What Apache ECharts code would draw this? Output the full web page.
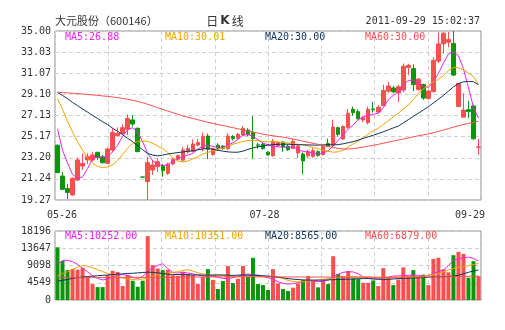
<!DOCTYPE html>
<html><head><meta charset="utf-8">
<script src="https://cdn.jsdelivr.net/npm/echarts@6/dist/echarts.min.js"></script>
<style>html,body{margin:0;padding:0;background:#fff}#c{width:505px;height:330px}</style>
</head><body><div id="c"></div>
<script>
const dates = ['05-26','05-27','05-30','05-31','06-01','06-02','06-03','06-07','06-08','06-09',
'06-10','06-13','06-14','06-15','06-20','06-21','06-22','06-23','06-24','06-27',
'06-28','06-29','06-30','07-01','07-04','07-05','07-06','07-07','07-08','07-11',
'07-12','07-13','07-14','07-15','07-18','07-19','07-20','07-21','07-22','07-25',
'07-26','07-27','07-28','07-29','08-01','08-02','08-05','08-08','08-09','08-10',
'08-11','08-12','08-15','08-16','08-17','08-18','08-19','08-22','08-23','08-24',
'08-25','08-26','08-29','08-30','08-31','09-01','09-02','09-05','09-06','09-07',
'09-08','09-09','09-13','09-14','09-15','09-16','09-19','09-20','09-21','09-22',
'09-23','09-26','09-27','09-28','09-29'];

const openP = [24.37,21.50,20.33,19.74,21.13,22.43,23.00,23.00,23.71,23.30,
22.68,23.92,25.26,25.47,25.85,26.72,25.94,21.41,20.98,22.06,
22.37,22.43,21.75,22.63,23.06,22.98,23.75,23.78,24.38,24.05,
25.22,23.50,24.37,24.28,24.06,25.18,25.01,25.32,25.78,25.55,
24.40,24.45,23.72,23.38,24.32,24.65,24.28,24.08,23.65,23.55,
23.38,23.33,23.77,23.50,24.52,24.38,26.00,24.95,26.03,27.71,
27.49,26.72,26.47,27.75,27.46,28.06,29.40,29.70,29.26,29.50,
31.60,31.50,29.55,30.02,28.72,29.37,32.20,33.80,33.95,33.85,
27.98,26.98,27.68,28.02,24.18];
const closeP = [21.82,20.26,19.97,21.29,23.00,22.68,23.30,23.46,23.24,22.74,
24.02,25.57,25.47,26.00,26.87,26.34,23.77,21.40,22.75,22.53,
22.84,22.00,22.60,23.05,23.40,23.93,24.08,24.48,24.62,25.18,
24.00,24.05,24.10,24.08,25.22,24.98,25.38,25.93,25.38,24.98,
24.36,24.06,23.46,24.75,24.62,24.20,23.95,24.74,24.30,22.90,
23.80,23.88,23.42,24.28,24.27,26.06,25.38,26.10,27.34,27.40,
26.84,26.93,27.71,27.68,27.90,29.48,29.88,29.33,29.82,31.72,
31.80,30.00,30.53,28.76,29.42,32.28,33.80,34.80,34.20,30.90,
30.12,27.64,27.50,24.96,24.21];
const lowP = [21.78,20.20,19.35,19.68,21.04,22.06,22.62,22.84,23.00,22.68,
22.62,23.77,25.17,25.32,25.32,26.10,23.71,21.40,19.27,21.60,
21.90,21.44,21.60,22.50,22.95,22.85,23.60,23.70,24.25,23.80,
23.08,23.40,23.86,23.95,23.90,24.80,24.90,25.20,25.20,23.13,
24.05,23.95,23.40,23.30,24.20,23.75,23.85,24.00,23.18,21.68,
23.20,23.20,23.30,23.40,24.20,24.25,25.20,24.85,25.90,27.10,
26.75,26.50,26.30,27.40,27.30,27.95,29.20,29.20,28.40,29.30,
30.90,29.40,29.45,28.60,28.60,29.25,32.00,32.90,33.50,30.80,
27.90,26.95,26.90,24.90,23.45];
const highP = [24.45,21.90,20.76,21.38,23.21,23.61,23.61,23.77,23.75,23.46,
24.17,25.94,26.03,26.31,27.24,27.18,26.03,21.41,23.30,23.00,
23.15,22.62,22.75,23.20,23.50,24.20,24.40,24.90,24.95,25.55,
25.45,24.15,24.55,24.40,25.50,25.30,25.50,26.15,25.95,27.07,
24.60,24.60,23.80,24.95,24.75,24.75,24.45,24.95,24.45,23.70,
23.95,24.10,23.90,24.40,24.98,26.75,26.10,26.25,27.75,27.95,
27.70,27.10,27.95,28.40,28.10,30.00,30.25,29.90,30.00,31.98,
31.95,31.90,30.60,30.10,29.50,32.55,34.85,34.90,34.90,35.00,
30.12,29.20,28.50,28.15,24.95];

const volume = [13900,10300,7880,8140,8000,8500,6050,4200,3410,3400,
6560,7700,7400,3680,6560,5080,3500,5100,16850,9190,
8300,7880,8000,6560,6400,7440,6830,6560,4200,6130,
8140,5300,2890,5000,8950,4450,5600,8950,6130,11120,
4200,3940,2630,8140,4380,2890,2360,3240,4380,5250,
6300,5250,3330,5250,4200,11550,6830,6300,7620,5690,
5510,4550,4550,5150,3680,8400,6100,3940,5400,8600,
6250,7880,6050,6700,3940,10850,11120,8100,7300,11820,
12690,12150,5900,10240,6300];

const ma5 = [25.90,23.90,22.70,21.65,21.28,21.43,22.20,23.12,23.25,23.25,
23.28,23.75,24.37,25.20,25.82,26.00,25.60,24.67,23.60,22.93,
22.55,22.48,22.55,22.90,23.12,23.30,23.45,23.60,24.00,24.30,
24.33,24.28,24.10,24.15,24.40,24.58,24.92,25.30,25.35,25.20,
24.88,24.55,24.42,24.25,24.22,24.18,24.20,24.18,24.00,23.78,
23.75,23.60,23.55,23.62,23.85,24.30,24.80,25.35,25.85,26.25,
26.75,27.00,27.15,27.25,27.35,27.85,28.60,29.00,29.30,29.95,
30.40,30.42,30.15,29.85,29.75,30.25,31.05,32.00,32.85,33.05,
32.70,31.50,29.70,27.90,26.88];
const ma10 = [28.70,27.70,26.60,25.60,24.70,23.90,23.20,22.70,22.40,22.28,
22.35,22.55,22.95,23.50,24.10,24.55,24.72,24.76,24.72,24.55,
24.30,24.05,23.70,23.20,22.90,22.80,22.90,23.10,23.30,23.55,
23.70,23.85,23.98,24.10,24.25,24.45,24.60,24.72,24.80,24.82,
24.80,24.72,24.68,24.70,24.68,24.62,24.58,24.50,24.45,24.42,
24.30,24.15,24.05,23.90,23.80,23.72,23.75,23.90,24.20,24.50,
24.75,25.10,25.40,25.70,25.95,26.30,26.65,27.00,27.35,27.75,
28.10,28.60,29.20,29.60,29.95,30.25,30.50,30.85,31.30,31.60,
31.58,31.40,31.10,30.75,30.01];
const ma20 = [29.30,29.00,28.70,28.35,28.05,27.75,27.45,27.15,26.85,26.55,
26.30,25.95,25.65,25.35,25.00,24.70,24.30,23.95,23.60,23.45,
23.38,23.45,23.55,23.62,23.68,23.74,23.80,23.86,23.94,24.02,
24.06,24.00,23.90,23.82,23.75,23.72,23.72,23.82,23.98,24.12,
24.22,24.30,24.38,24.42,24.45,24.47,24.46,24.44,24.42,24.40,
24.40,24.38,24.38,24.40,24.42,24.40,24.42,24.50,24.60,24.70,
24.85,25.00,25.15,25.30,25.45,25.62,25.80,25.98,26.15,26.45,
26.75,27.05,27.35,27.65,27.95,28.30,28.65,29.00,29.40,29.80,
30.10,30.27,30.30,30.28,30.00];
const ma60 = [29.30,29.27,29.24,29.21,29.17,29.13,29.09,29.05,29.01,28.96,
28.91,28.86,28.80,28.72,28.64,28.55,28.45,28.32,28.18,28.02,
27.86,27.70,27.55,27.40,27.25,27.10,26.98,26.86,26.74,26.62,
26.50,26.40,26.30,26.20,26.10,26.00,25.90,25.80,25.70,25.60,
25.50,25.40,25.32,25.25,25.18,25.12,25.04,24.95,24.85,24.74,
24.64,24.55,24.45,24.35,24.25,24.15,24.08,24.02,24.02,24.05,
24.12,24.20,24.28,24.36,24.45,24.55,24.65,24.75,24.85,24.95,
25.05,25.15,25.25,25.33,25.42,25.52,25.65,25.78,25.92,26.05,
26.18,26.30,26.40,26.50,26.60];

const vma5 = [9300,10400,10500,10100,9400,8400,7400,6400,5700,5300,
5500,6100,6500,6700,6500,6000,5700,6200,7500,8500,
9100,9600,8300,7300,7100,7300,7100,6900,6600,6400,
6250,6250,6000,5700,5600,5900,6300,6700,6800,6700,
6500,6200,5900,5400,4800,4400,4200,4300,4600,4800,
5000,5000,4850,4900,5250,6100,6800,7300,7450,7400,
6900,6100,5850,5600,5500,5700,6000,6300,6350,6400,
6500,6600,6500,6300,6500,7000,7500,7900,9100,10400,
10900,11100,11300,11000,10252];
const vma10 = [6400,7000,7450,8100,8600,9100,8900,8500,8000,7500,
7000,6600,6150,5800,5550,5400,5300,5550,5750,6300,
6700,7050,7150,7300,7450,7800,8000,7600,7200,6850,
6700,6600,6550,6500,6350,6200,6150,6250,6350,6300,
6200,6150,6250,6300,6050,5700,5200,4850,4800,4800,
4950,5100,5250,5450,5650,5800,5950,6050,6150,6150,
6150,6100,6100,6000,5850,5750,5700,5800,5900,5950,
6050,6150,6150,6300,6550,6800,7000,7450,7900,8300,
8550,8750,9050,9350,9650];
const vma20 = [5000,5200,5400,5700,5900,6050,6200,6300,6400,6500,
6600,6700,6800,6900,7000,7050,7150,7250,7350,7300,
7150,7000,6800,6750,6700,6700,6650,6600,6600,6550,
6600,6550,6600,6600,6550,6500,6550,6600,6550,6550,
6500,6400,6300,6150,6000,5850,5650,5500,5400,5300,
5250,5250,5250,5250,5300,5350,5400,5450,5500,5550,
5600,5650,5650,5550,5500,5450,5450,5550,5650,5700,
5750,5800,5850,5900,6000,6100,6150,6150,6200,6300,
6550,6900,7300,7650,7900];
const vma60 = [5850,5850,5860,5870,5880,5880,5890,5900,5900,5910,
5920,5930,5940,5950,5950,5960,5970,5980,5990,6000,
6000,6010,6020,6030,6040,6050,6050,6060,6070,6080,
6080,6090,6090,6100,6100,6100,6110,6110,6110,6110,
6100,6100,6100,6090,6090,6080,6080,6070,6070,6060,
6060,6050,6050,6050,6050,6040,6040,6030,6020,6010,
6000,6000,6000,6000,6000,6000,6010,6020,6030,6040,
6050,6060,6070,6080,6090,6100,6120,6140,6160,6180,
6200,6220,6250,6280,6300];

const priceTicks = ['19.27','21.24','23.20','25.17','27.13','29.10','31.07','33.03','35.00'];
const volTicks = [0, 4549, 9098, 13647, 18196];
const priceLegend = ['MA5:26.88','MA10:30.01','MA20:30.00','MA60:30.00'];
const volLegend = ['MA5:10252.00','MA10:10351.00','MA20:8565.00','MA60:6879.00'];
const shownDates = [0, 42, 84];

const UP = '#fa4f4f', DOWN = '#0a960a';
const MA_COLORS = ['#ee22ee', '#f5a300', '#10335e', '#fa4f4f'];
const MONO = '"DejaVu Sans Mono", monospace';
const TXT = '#333';

const kData = openP.map((o, i) => [o, closeP[i], lowP[i], highP[i]]);
function sign(i) {
  if (closeP[i] > openP[i]) return 1;
  if (closeP[i] < openP[i]) return -1;
  return i > 0 && closeP[i - 1] > closeP[i] ? -1 : 1;
}
const volData = volume.map((v, i) => ({ value: v, itemStyle: { color: sign(i) > 0 ? UP : DOWN } }));

const dashed = { show: true, lineStyle: { color: '#d0d0d0', type: [4, 3], width: 1 } };
const G0 = { left: 55, right: 24, top: 31, height: 169 };
const G1 = { left: 55, right: 24, top: 231, height: 69 };

function lineSeries(data, color, xi, yi) {
  return { type: 'line', data: data, xAxisIndex: xi, yAxisIndex: yi, showSymbol: false, symbol: 'none',
    lineStyle: { width: 1, color: color }, itemStyle: { color: color }, z: 5, silent: true, animation: false };
}

const graphics = [
  { type: 'text', x: 55, y: 21, style: { text: '大元股份（600146）', font: '11px "Noto Sans CJK SC"', fill: TXT, verticalAlign: 'middle', textVerticalAlign: 'middle' } },
  { type: 'text', x: 225, y: 21, style: { text: '{n|日}{b|K}{n|线}', align: 'center', textAlign: 'center', verticalAlign: 'middle', textVerticalAlign: 'middle',
      rich: { n: { font: '12px "Noto Sans CJK SC"', fill: TXT, padding: [0, 1] }, b: { font: 'bold 12px "DejaVu Sans"', fill: TXT, padding: [0, 1] } } } },
  { type: 'text', x: 480, y: 21, style: { text: '2011-09-29 15:02:37', font: '10px ' + MONO, fill: TXT, align: 'right', textAlign: 'right', verticalAlign: 'middle', textVerticalAlign: 'middle' } }
];
[65, 165, 265, 365].forEach((x, k) => {
  graphics.push({ type: 'text', x: x, y: 37, z: 100, style: { text: priceLegend[k], font: '10px ' + MONO, fill: MA_COLORS[k], verticalAlign: 'middle', textVerticalAlign: 'middle' } });
  graphics.push({ type: 'text', x: x, y: 236, z: 100, style: { text: volLegend[k], font: '10px ' + MONO, fill: MA_COLORS[k], verticalAlign: 'middle', textVerticalAlign: 'middle' } });
});

const labelRich = {
  a: { fontSize: 10, fontFamily: MONO, color: TXT, padding: [0, 0, 0, 9] },
  m: { fontSize: 10, fontFamily: MONO, color: TXT, padding: [0, 7, 0, 0] },
  z: { fontSize: 10, fontFamily: MONO, color: TXT, padding: [0, 17, 0, 0] }
};

const option = {
  animation: false,
  backgroundColor: '#fff',
  grid: [
    Object.assign({ show: true, borderColor: '#8a8a8a', borderWidth: 1, backgroundColor: 'transparent' }, G0),
    Object.assign({ show: true, borderColor: '#8a8a8a', borderWidth: 1, backgroundColor: 'transparent' }, G1)
  ],
  xAxis: [
    { type: 'category', gridIndex: 0, data: dates, boundaryGap: true,
      axisLine: { show: false }, axisTick: { show: false }, splitLine: { show: false },
      axisLabel: { show: true, margin: 10, fontSize: 10, fontFamily: MONO, color: TXT,
        interval: (idx) => shownDates.indexOf(idx) >= 0,
        formatter: (v, idx) => idx === 0 ? '{a|' + v + '}' : (idx === dates.length - 1 ? '{z|' + v + '}' : '{m|' + v + '}'),
        rich: labelRich } },
    { type: 'category', gridIndex: 1, data: dates, boundaryGap: true,
      axisLine: { show: false }, axisTick: { show: false }, axisLabel: { show: false }, splitLine: { show: false } },
    { type: 'value', gridIndex: 0, min: 0, max: 8, interval: 1, axisLine: { show: false }, axisTick: { show: false },
      axisLabel: { show: false }, splitLine: dashed },
    { type: 'value', gridIndex: 1, min: 0, max: 8, interval: 1, axisLine: { show: false }, axisTick: { show: false },
      axisLabel: { show: false }, splitLine: dashed }
  ],
  yAxis: [
    { type: 'value', gridIndex: 0, min: 19.27, max: 35, scale: true,
      axisLine: { show: false },
      axisTick: { show: false, customValues: priceTicks.map(Number) },
      axisLabel: { customValues: priceTicks.map(Number), formatter: (v) => Number(v).toFixed(2), margin: 4,
        fontSize: 10, fontFamily: MONO, color: TXT },
      splitLine: dashed },
    { type: 'value', gridIndex: 1, min: volTicks[0], max: volTicks[volTicks.length - 1], interval: volTicks[1],
      axisLine: { show: false }, axisTick: { show: false },
      axisLabel: { margin: 4, fontSize: 10, fontFamily: MONO, color: TXT, formatter: (v) => String(Math.round(v)) },
      splitLine: dashed }
  ],
  series: [
    { type: 'candlestick', xAxisIndex: 0, yAxisIndex: 0, data: kData, barWidth: 4, z: 3,
      itemStyle: { color: UP, color0: DOWN, borderColor: UP, borderColor0: DOWN, borderWidth: 1 } },
    lineSeries(ma5, MA_COLORS[0], 0, 0),
    lineSeries(ma10, MA_COLORS[1], 0, 0),
    lineSeries(ma20, MA_COLORS[2], 0, 0),
    lineSeries(ma60, MA_COLORS[3], 0, 0),
    { type: 'bar', xAxisIndex: 1, yAxisIndex: 1, data: volData, barWidth: 4, z: 3 },
    lineSeries(vma5, MA_COLORS[0], 1, 1),
    lineSeries(vma10, MA_COLORS[1], 1, 1),
    lineSeries(vma20, MA_COLORS[2], 1, 1),
    lineSeries(vma60, MA_COLORS[3], 1, 1)
  ],
  graphic: graphics
};

const chart = echarts.init(document.getElementById('c'), null, { renderer: 'canvas' });
chart.setOption(option);
</script>
</body></html>
